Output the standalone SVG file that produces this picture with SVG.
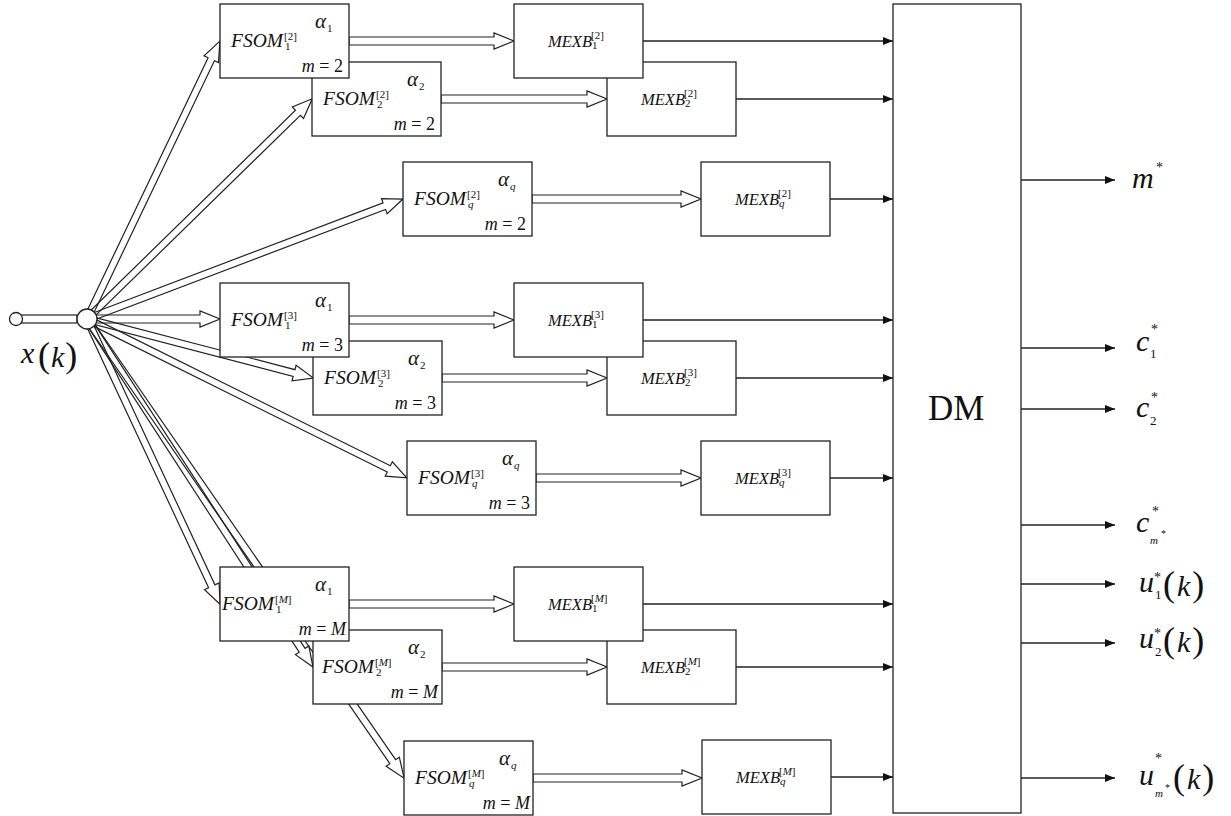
<svg xmlns="http://www.w3.org/2000/svg" width="1231" height="816" viewBox="0 0 1231 816" font-family="'Liberation Serif','Times New Roman',serif">
<defs>
<style>
text{font-family:"Liberation Serif","Times New Roman",serif;fill:#111}
.it{font-style:italic}
.box{fill:#fff;stroke:#222;stroke-width:1.3}
.ha{fill:#fff;stroke:#222;stroke-width:1.2}
.fan{fill:none;stroke:#222;stroke-width:1.2}
.ln{stroke:#222;stroke-width:1.3;fill:none;marker-end:url(#ah)}
.fs{font-size:19.5px;font-style:italic}
.ms{font-size:16.5px;font-style:italic}
.sm{font-size:11px}
.al{font-size:21px;font-style:italic}
.mm{font-size:18px;text-anchor:end}
.lb{font-size:30px;font-style:italic}
.st{font-size:14px}
.sb{font-size:13px}
.pr{font-size:36px}
</style>
<marker id="ah" markerUnits="userSpaceOnUse" markerWidth="10" markerHeight="8" refX="10" refY="4" orient="auto">
<path d="M0,0 L10,4 L0,8 z" fill="#111"/>
</marker>
</defs>
<rect width="1231" height="816" fill="#fff"/>
<g id="connectors">
<rect class="ha" x="21" y="315" width="56" height="8"/>
<g transform="translate(87,319)">
<polygon class="fan" transform="rotate(-64.44)" points="0,-3.5 288,-3.5 288,-8 308,0 288,8 288,3.5 0,3.5"/>
<polygon class="fan" transform="rotate(-44.36)" points="0,-3.5 295,-3.5 295,-8 315,0 295,8 295,3.5 0,3.5"/>
<polygon class="fan" transform="rotate(-20.79)" points="0,-3.5 318,-3.5 318,-8 338,0 318,8 318,3.5 0,3.5"/>
<polygon class="fan" points="0,-4 113,-4 113,-8 133,0 113,8 113,4 0,4"/>
<polygon class="fan" transform="rotate(14.63)" points="0,-3.5 214,-3.5 214,-8 234,0 214,8 214,3.5 0,3.5"/>
<polygon class="fan" transform="rotate(26.42)" points="0,-3.5 337,-3.5 337,-8 357,0 337,8 337,3.5 0,3.5"/>
<polygon class="fan" transform="rotate(64.98)" points="0,-3.5 295,-3.5 295,-8 315,0 295,8 295,3.5 0,3.5"/>
<polygon class="fan" transform="rotate(57.0)" points="0,-3.5 395,-3.5 395,-8 415,0 395,8 395,3.5 0,3.5"/>
<polygon class="fan" transform="rotate(55.37)" points="0,-3.5 538,-3.5 538,-8 558,0 538,8 538,3.5 0,3.5"/>
</g>
<polygon class="ha" points="349,37 494,37 494,33 514,41 494,49 494,45 349,45"/>
<polygon class="ha" points="441,95 587,95 587,91 607,99 587,107 587,103 441,103"/>
<polygon class="ha" points="532,195 681,195 681,191 701,199 681,207 681,203 532,203"/>
<polygon class="ha" points="349,316 494,316 494,312 514,320 494,328 494,324 349,324"/>
<polygon class="ha" points="442,374 587,374 587,370 607,378 587,386 587,382 442,382"/>
<polygon class="ha" points="536,474 681,474 681,470 701,478 681,486 681,482 536,482"/>
<polygon class="ha" points="349,600 494,600 494,596 514,604 494,612 494,608 349,608"/>
<polygon class="ha" points="442,663 587,663 587,659 607,667 587,675 587,671 442,671"/>
<polygon class="ha" points="533,774 682,774 682,770 702,778 682,786 682,782 533,782"/>
<line class="ln" x1="643" y1="41" x2="893" y2="41"/>
<line class="ln" x1="736" y1="99" x2="893" y2="99"/>
<line class="ln" x1="830" y1="199" x2="893" y2="199"/>
<line class="ln" x1="643" y1="320" x2="893" y2="320"/>
<line class="ln" x1="736" y1="378" x2="893" y2="378"/>
<line class="ln" x1="830" y1="478" x2="893" y2="478"/>
<line class="ln" x1="643" y1="604" x2="893" y2="604"/>
<line class="ln" x1="736" y1="667" x2="893" y2="667"/>
<line class="ln" x1="831" y1="777" x2="893" y2="777"/>
<line class="ln" x1="1021" y1="180" x2="1115" y2="180"/>
<line class="ln" x1="1021" y1="348" x2="1115" y2="348"/>
<line class="ln" x1="1021" y1="409" x2="1115" y2="409"/>
<line class="ln" x1="1021" y1="525" x2="1115" y2="525"/>
<line class="ln" x1="1021" y1="584" x2="1115" y2="584"/>
<line class="ln" x1="1021" y1="643" x2="1115" y2="643"/>
<line class="ln" x1="1021" y1="778" x2="1115" y2="778"/>
</g>
<g id="input">
<circle cx="16" cy="319" r="6.5" fill="#fff" stroke="#222" stroke-width="1.3"/>
<text class="lb" x="21" y="363">x</text>
<text x="38" y="367"><tspan class="pr">(</tspan><tspan class="lb" dx="1">k</tspan><tspan class="pr" dx="1">)</tspan></text>
</g>
<g id="junction"><circle cx="87" cy="319" r="10" fill="#fff" stroke="#222" stroke-width="1.3"/></g>

<g id="fsom2_2"><rect class="box" x="312" y="62" width="129" height="74"/>
<text class="fs" x="323" y="105">FSOM</text><text class="sm" x="376" y="98">[2]</text><text class="sm" x="377" y="108">2</text>
<text class="al" x="407" y="86">α</text><text class="sm" x="419" y="90">2</text>
<text class="mm" x="435" y="130"><tspan class="it">m</tspan> = 2</text></g>
<g id="fsom1_2"><rect class="box" x="220" y="4" width="129" height="74"/>
<text class="fs" x="231" y="47">FSOM</text><text class="sm" x="284" y="40">[2]</text><text class="sm" x="285" y="50">1</text>
<text class="al" x="315" y="28">α</text><text class="sm" x="327" y="32">1</text>
<text class="mm" x="343" y="72"><tspan class="it">m</tspan> = 2</text></g>
<g id="fsomq_2"><rect class="box" x="403" y="162" width="129" height="74"/>
<text class="fs" x="414" y="205">FSOM</text><text class="sm" x="467" y="198">[2]</text><text class="sm it" x="468" y="208">q</text>
<text class="al" x="498" y="186">α</text><text class="sm it" x="510" y="190">q</text>
<text class="mm" x="526" y="230"><tspan class="it">m</tspan> = 2</text></g>
<g id="mexb2_2"><rect class="box" x="607" y="62" width="129" height="74"/>
<text class="ms" x="641" y="105">MEXB</text><text class="sm" x="684" y="97">[2]</text><text class="sm" x="685" y="107">2</text></g>
<g id="mexb1_2"><rect class="box" x="514" y="4" width="129" height="74"/>
<text class="ms" x="548" y="47">MEXB</text><text class="sm" x="591" y="39">[2]</text><text class="sm" x="592" y="49">1</text></g>
<g id="mexbq_2"><rect class="box" x="701" y="162" width="129" height="74"/>
<text class="ms" x="735" y="205">MEXB</text><text class="sm" x="778" y="197">[2]</text><text class="sm it" x="779" y="207">q</text></g>

<g id="fsom2_3"><rect class="box" x="313" y="341" width="129" height="74"/>
<text class="fs" x="324" y="384">FSOM</text><text class="sm" x="377" y="377">[3]</text><text class="sm" x="378" y="387">2</text>
<text class="al" x="408" y="365">α</text><text class="sm" x="420" y="369">2</text>
<text class="mm" x="436" y="409"><tspan class="it">m</tspan> = 3</text></g>
<g id="fsom1_3"><rect class="box" x="220" y="283" width="129" height="74"/>
<text class="fs" x="231" y="326">FSOM</text><text class="sm" x="284" y="319">[3]</text><text class="sm" x="285" y="329">1</text>
<text class="al" x="315" y="307">α</text><text class="sm" x="327" y="311">1</text>
<text class="mm" x="343" y="351"><tspan class="it">m</tspan> = 3</text></g>
<g id="fsomq_3"><rect class="box" x="407" y="441" width="129" height="74"/>
<text class="fs" x="418" y="484">FSOM</text><text class="sm" x="471" y="477">[3]</text><text class="sm it" x="472" y="487">q</text>
<text class="al" x="502" y="465">α</text><text class="sm it" x="514" y="469">q</text>
<text class="mm" x="530" y="509"><tspan class="it">m</tspan> = 3</text></g>
<g id="mexb2_3"><rect class="box" x="607" y="341" width="129" height="74"/>
<text class="ms" x="641" y="384">MEXB</text><text class="sm" x="684" y="376">[3]</text><text class="sm" x="685" y="386">2</text></g>
<g id="mexb1_3"><rect class="box" x="514" y="283" width="129" height="74"/>
<text class="ms" x="548" y="326">MEXB</text><text class="sm" x="591" y="318">[3]</text><text class="sm" x="592" y="328">1</text></g>
<g id="mexbq_3"><rect class="box" x="701" y="441" width="129" height="74"/>
<text class="ms" x="735" y="484">MEXB</text><text class="sm" x="778" y="476">[3]</text><text class="sm it" x="779" y="486">q</text></g>

<g id="fsom2_M"><rect class="box" x="313" y="630" width="129" height="74"/>
<text class="fs" x="322" y="673">FSOM</text><text class="sm" x="375" y="666">[<tspan class="it">M</tspan>]</text><text class="sm" x="376" y="676">2</text>
<text class="al" x="408" y="654">α</text><text class="sm" x="420" y="658">2</text>
<text class="mm" x="438" y="698"><tspan class="it">m</tspan> = <tspan class="it">M</tspan></text></g>
<g id="fsom1_M"><rect class="box" x="220" y="567" width="129" height="74"/>
<text class="fs" x="222" y="610">FSOM</text><text class="sm" x="275" y="603">[<tspan class="it">M</tspan>]</text><text class="sm" x="276" y="613">1</text>
<text class="al" x="315" y="591">α</text><text class="sm" x="327" y="595">1</text>
<text class="mm" x="346" y="635"><tspan class="it">m</tspan> = <tspan class="it">M</tspan></text></g>
<g id="fsomq_M"><rect class="box" x="404" y="741" width="129" height="74"/>
<text class="fs" x="415" y="784">FSOM</text><text class="sm" x="468" y="777">[<tspan class="it">M</tspan>]</text><text class="sm it" x="469" y="787">q</text>
<text class="al" x="499" y="765">α</text><text class="sm it" x="511" y="769">q</text>
<text class="mm" x="530" y="809"><tspan class="it">m</tspan> = <tspan class="it">M</tspan></text></g>
<g id="mexb2_M"><rect class="box" x="607" y="630" width="129" height="74"/>
<text class="ms" x="641" y="673">MEXB</text><text class="sm" x="684" y="665">[<tspan class="it">M</tspan>]</text><text class="sm" x="685" y="675">2</text></g>
<g id="mexb1_M"><rect class="box" x="514" y="567" width="129" height="74"/>
<text class="ms" x="548" y="610">MEXB</text><text class="sm" x="591" y="602">[<tspan class="it">M</tspan>]</text><text class="sm" x="592" y="612">1</text></g>
<g id="mexbq_M"><rect class="box" x="702" y="740" width="129" height="74"/>
<text class="ms" x="736" y="783">MEXB</text><text class="sm" x="779" y="775">[<tspan class="it">M</tspan>]</text><text class="sm it" x="780" y="785">q</text></g>

<g id="dm"><rect class="box" x="893" y="4" width="128" height="809"/>
<text x="928" y="420" font-size="35">DM</text></g>

<g id="outputs">
<text class="lb" x="1132" y="188">m</text><text class="st" x="1156" y="172">*</text>
<text class="lb" x="1136" y="351">c</text><text class="sb" x="1150" y="358">1</text><text class="st" x="1151" y="334">*</text>
<text class="lb" x="1136" y="417">c</text><text class="sb" x="1150" y="425">2</text><text class="st" x="1151" y="402">*</text>
<text class="lb" x="1136" y="532">c</text><text class="st" x="1152" y="516">*</text><text class="it" font-size="11" x="1150" y="544">m</text><text font-size="10" x="1161" y="537">*</text>
<text class="lb" x="1139" y="592">u</text><text class="sb" x="1155" y="599">1</text><text class="st" x="1154" y="582">*</text>
<text x="1163" y="596"><tspan class="pr">(</tspan><tspan class="lb" dx="2">k</tspan><tspan class="pr" dx="2">)</tspan></text>
<text class="lb" x="1139" y="648">u</text><text class="sb" x="1155" y="656">2</text><text class="st" x="1154" y="638">*</text>
<text x="1163" y="652"><tspan class="pr">(</tspan><tspan class="lb" dx="2">k</tspan><tspan class="pr" dx="2">)</tspan></text>
<text class="lb" x="1139" y="785">u</text><text class="st" x="1155" y="763">*</text><text class="it" font-size="11" x="1155" y="797">m</text><text font-size="10" x="1165" y="791">*</text>
<text x="1173" y="789"><tspan class="pr">(</tspan><tspan class="lb" dx="2">k</tspan><tspan class="pr" dx="2">)</tspan></text>
</g>
</svg>
